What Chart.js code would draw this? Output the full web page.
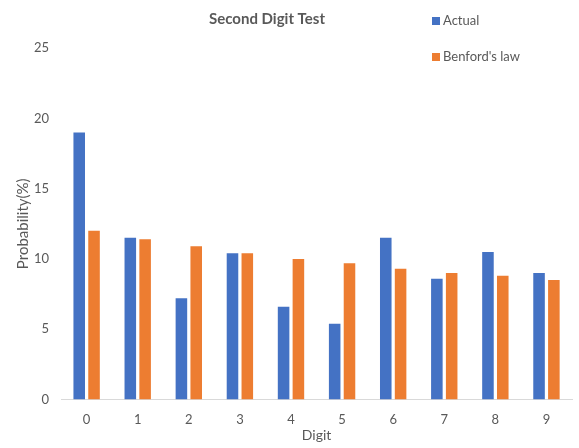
<!DOCTYPE html>
<html>
<head>
    <meta charset="utf-8">
    <title>Second Digit Test</title>
    <script src="https://cdn.jsdelivr.net/npm/chart.js"></script>
    <style>
        html, body { margin: 0; padding: 0; background: #fff; }
        #wrap { width: 579px; height: 448px; position: relative; }
    </style>
</head>
<body>
    <div id="wrap"><canvas id="digitChart"></canvas></div>
    <script>
        // data
        var digits = ['0', '1', '2', '3', '4', '5', '6', '7', '8', '9'];
        var actual = [19.0, 11.5, 7.2, 10.4, 6.6, 5.4, 11.5, 8.6, 10.5, 9.0];
        var benford = [12.0, 11.4, 10.9, 10.4, 10.0, 9.7, 9.3, 9.0, 8.8, 8.5];
        var yTicks = [0, 5, 10, 15, 20, 25];

        var grey = '#595959';
        var fontName = 'Lato, "Open Sans", sans-serif';

        // title + legend drawn at fixed spots like the Excel original
        var headerPlugin = {
            id: 'header',
            afterDraw: function (chart) {
                var ctx = chart.ctx;
                ctx.save();
                ctx.fillStyle = grey;
                ctx.font = 'bold 15px ' + fontName;
                ctx.textAlign = 'center';
                ctx.textBaseline = 'middle';
                ctx.fillText('Second Digit Test', 267, 19);

                ctx.font = '13px ' + fontName;
                ctx.textAlign = 'left';
                var rows = [21, 57];
                chart.data.datasets.forEach(function (ds, i) {
                    ctx.fillStyle = ds.backgroundColor;
                    ctx.fillRect(432, rows[i] - 4, 8, 8);
                    ctx.fillStyle = grey;
                    ctx.fillText(ds.label, 443, rows[i]);
                });
                ctx.restore();
            }
        };

        new Chart(document.getElementById('digitChart'), {
            type: 'bar',
            data: {
                labels: digits,
                datasets: [{
                    label: 'Actual',
                    data: actual,
                    backgroundColor: '#4472C4'
                }, {
                    label: "Benford's law",
                    data: benford,
                    backgroundColor: '#ED7D31'
                }]
            },
            options: {
                responsive: true,
                maintainAspectRatio: false,
                animation: false,
                layout: {
                    padding: { top: 48, right: 7, left: 14, bottom: 4 }
                },
                datasets: {
                    bar: { categoryPercentage: 0.58, barPercentage: 0.78 }
                },
                plugins: {
                    legend: { display: false },
                    title: { display: false },
                    tooltip: { enabled: false }
                },
                scales: {
                    x: {
                        grid: { display: false, drawTicks: false },
                        border: { display: true, color: '#d9d9d9' },
                        ticks: { color: grey, padding: 12, font: { family: fontName, size: 13 } },
                        title: {
                            display: true, text: 'Digit', color: grey,
                            padding: { top: -12, bottom: 0 },
                            font: { family: fontName, size: 14 }
                        }
                    },
                    y: {
                        min: 0,
                        max: 25,
                        afterBuildTicks: function (axis) {
                            axis.ticks = yTicks.map(function (v) { return { value: v }; });
                        },
                        grid: { display: false, drawTicks: false },
                        border: { display: false },
                        ticks: { color: grey, padding: 12, font: { family: fontName, size: 13 } },
                        title: {
                            display: true, text: 'Probability(%)', color: grey,
                            padding: { top: 0, bottom: -10 },
                            font: { family: fontName, size: 15 }
                        }
                    }
                }
            },
            plugins: [headerPlugin]
        });
    </script>
</body>
</html>
